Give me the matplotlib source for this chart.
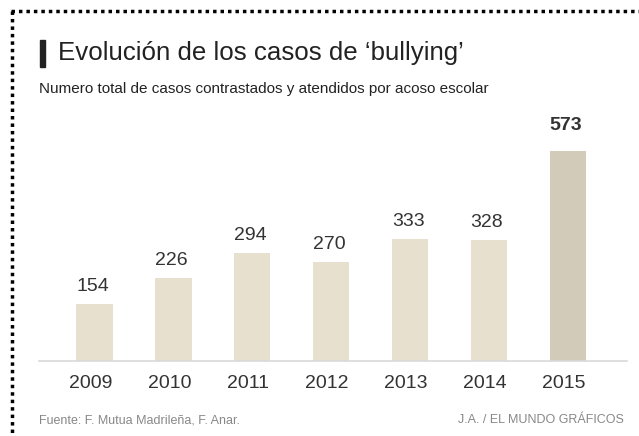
import matplotlib
matplotlib.use("Agg")
import matplotlib.pyplot as plt
import matplotlib.transforms as mtransforms
from matplotlib.lines import Line2D
from matplotlib.patches import Rectangle

plt.rcParams['font.family'] = ['Liberation Sans', 'DejaVu Sans']

years = ['2009', '2010', '2011', '2012', '2013', '2014', '2015']
cases = [154, 226, 294, 270, 333, 328, 573]
highlight = '2015'

W, H = 639, 436
fig = plt.figure(figsize=(W / 100, H / 100), dpi=100)


def px(x, y):
    # pixel coords (from top-left) to figure fraction
    return x / W, 1 - y / H


# axes placed by pixel box: left 39, right 627, top 100, baseline 360.7
ax = fig.add_axes([39 / W, (H - 360.7) / H, 588 / W, 260.7 / H])
xpos = list(range(len(years)))
colors = ['#d3cbba' if y == highlight else '#e8e0cf' for y in years]
ax.bar(xpos, cases, width=0.46, color=colors, zorder=2)
ax.set_xlim(-0.703, 6.749)
ax.set_ylim(0, 711)

for s in ['top', 'right', 'left']:
    ax.spines[s].set_visible(False)
ax.spines['bottom'].set_color('#d9d9d9')
ax.spines['bottom'].set_linewidth(1.2)
ax.set_yticks([])
ax.set_xticks(xpos)
ax.set_xticklabels(years, fontsize=14, color='#333333')
ax.tick_params(axis='x', length=0, pad=10)
shift = mtransforms.ScaledTranslation(-4 / 100, 0, fig.dpi_scale_trans)
for lab in ax.get_xticklabels():
    lab.set_transform(lab.get_transform() + shift)

for x, y, v in zip(xpos, cases, years):
    bold = v == highlight
    ax.annotate(str(y), (x, y), xytext=(-2, 17 if bold else 9),
                textcoords='offset pixels', ha='center', va='bottom',
                fontsize=14, color='#333333',
                fontweight='bold' if bold else 'normal')

# title block
fig.patches.append(Rectangle(px(40, 67), 5 / W, 27 / H, transform=fig.transFigure,
                             color='#222222', figure=fig))
fig.text(*px(58, 60), "Evolución de los casos de ‘bullying’", fontsize=18.6,
         color='#222222', va='baseline', ha='left')
fig.text(*px(39, 93), "Numero total de casos contrastados y atendidos por acoso escolar",
         fontsize=11, color='#222222', va='baseline', ha='left')

# footer
fig.text(*px(39, 423), "Fuente: F. Mutua Madrileña, F. Anar.", fontsize=9,
         color='#888888', va='baseline', ha='left')
fig.text(*px(624, 423), "J.A. / EL MUNDO GRÁFICOS", fontsize=9,
         color='#888888', va='baseline', ha='right')

# dotted frame, top and left
dots = dict(color='black', linewidth=2.5, linestyle=(0, (1, 1.15)),
            dash_capstyle='butt', transform=fig.transFigure)
x0, y0 = px(12.3, 11.5)
fig.add_artist(Line2D([x0 - 0.002, 1], [y0, y0], **dots))
fig.add_artist(Line2D([x0, x0], [y0, 0], **dots))

fig.savefig('out.png', dpi=100, facecolor='white')
